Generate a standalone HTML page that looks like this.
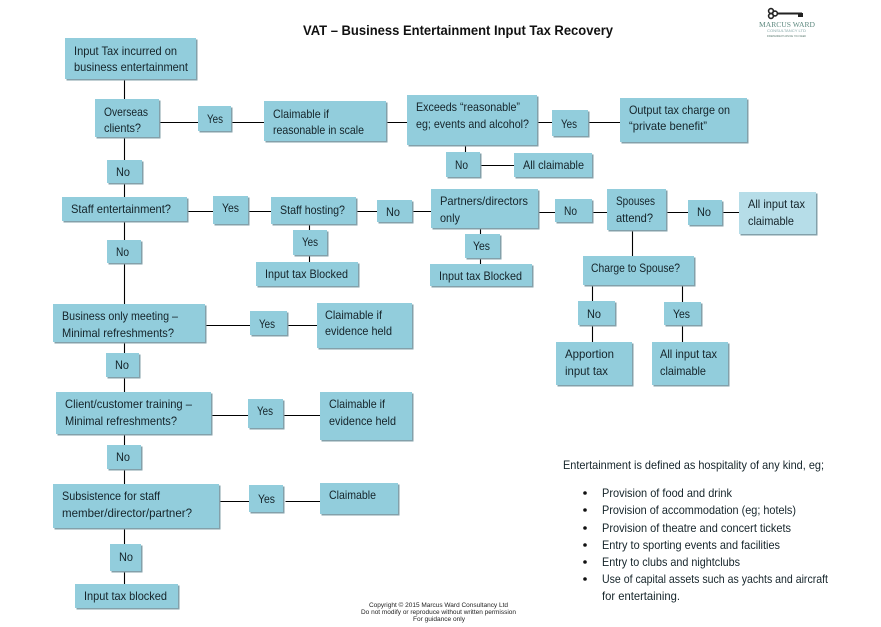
<!DOCTYPE html>
<html><head><meta charset="utf-8"><style>
html,body{margin:0;padding:0;background:#fff}
svg{display:block}
text{font-family:"Liberation Sans",sans-serif;font-size:11.6px;fill:#15242a}
.s{fill:#83a0aa}
.b{fill:#92cddc}
.l{stroke:#000;stroke-width:1.1;fill:none}
</style></head><body>
<svg width="881" height="627" viewBox="0 0 881 627" xmlns="http://www.w3.org/2000/svg">
<rect width="881" height="627" fill="#fff"/>
<path class="l" transform="translate(0.5 0.5)" d="M124 80V99M124 138V160M124 184V197M124 222V240M124 264V304M124 343V353M124 378V392M124 435V445M124 470V484M124 529V544M124 572V584
M160 122H198M232 122H264M387 122H407M538 122H552M589 122H620M465 146V152M481 165H514
M188 211H213M249 211H271M357 211H377M413 211H431M539 212H555M593 212H607M667 212H688M723 212H739
M309 225V230M309 256V262M480 229V234M480 259V264M632 231V256M592 286V301M592 326V342M682 286V302M682 326V342
M206 325H250M288 325H317M212 415H248M284 415H320M220 501H249M285 501H320"/>
<!-- shadows -->
<g class="s">
<rect x="66.500" y="39.500" width="131" height="41"/>
<rect x="96.500" y="100.500" width="64" height="38"/>
<rect x="199.500" y="107.500" width="33" height="25"/>
<rect x="265.500" y="102.500" width="122" height="40"/>
<rect x="108.500" y="161.500" width="35" height="23"/>
<rect x="63.500" y="198.500" width="125" height="24"/>
<rect x="214.500" y="197.500" width="35" height="28"/>
<rect x="272.500" y="198.500" width="85" height="27"/>
<rect x="408.500" y="96.500" width="130" height="50"/>
<rect x="553.500" y="111.500" width="36" height="26"/>
<rect x="621.500" y="99.500" width="127" height="44"/>
<rect x="447.500" y="153.500" width="34" height="25"/>
<rect x="515.500" y="154.500" width="78" height="24"/>
<rect x="378.500" y="201.500" width="35" height="22"/>
<rect x="432.500" y="190.500" width="107" height="39"/>
<rect x="556.500" y="200.500" width="37" height="23"/>
<rect x="608.500" y="190.500" width="59" height="41"/>
<rect x="689.500" y="201.500" width="34" height="25"/>
<rect x="740.500" y="193.500" width="77" height="42"/>
<rect x="294.500" y="231.500" width="34" height="25"/>
<rect x="257.500" y="263.500" width="102" height="24"/>
<rect x="466.500" y="235.500" width="35" height="24"/>
<rect x="431.500" y="265.500" width="102" height="22"/>
<rect x="584.500" y="257.500" width="111" height="29"/>
<rect x="579.500" y="302.500" width="37" height="24"/>
<rect x="665.500" y="303.500" width="37" height="23"/>
<rect x="557.500" y="343.500" width="76" height="43"/>
<rect x="653.500" y="343.500" width="76" height="43"/>
<rect x="108.500" y="241.500" width="34" height="23"/>
<rect x="54.500" y="305.500" width="152" height="38"/>
<rect x="251.500" y="312.500" width="37" height="24"/>
<rect x="318.500" y="304.500" width="95" height="45"/>
<rect x="107.500" y="354.500" width="33" height="24"/>
<rect x="57.500" y="393.500" width="155" height="42"/>
<rect x="249.500" y="400.500" width="35" height="29"/>
<rect x="321.500" y="393.500" width="92" height="48"/>
<rect x="108.500" y="446.500" width="34" height="24"/>
<rect x="54.500" y="485.500" width="166" height="44"/>
<rect x="250.500" y="486.500" width="34" height="27"/>
<rect x="321.500" y="484.500" width="78" height="31"/>
<rect x="111.500" y="545.500" width="31" height="27"/>
<rect x="76.500" y="585.500" width="103" height="24"/>
</g>
<!-- boxes -->
<g class="b">
<rect x="65" y="38" width="131" height="41"/>
<rect x="95" y="99" width="64" height="38"/>
<rect x="198" y="106" width="33" height="25"/>
<rect x="264" y="101" width="122" height="40"/>
<rect x="107" y="160" width="35" height="23"/>
<rect x="62" y="197" width="125" height="24"/>
<rect x="213" y="196" width="35" height="28"/>
<rect x="271" y="197" width="85" height="27"/>
<rect x="407" y="95" width="130" height="50"/>
<rect x="552" y="110" width="36" height="26"/>
<rect x="620" y="98" width="127" height="44"/>
<rect x="446" y="152" width="34" height="25"/>
<rect x="514" y="153" width="78" height="24"/>
<rect x="377" y="200" width="35" height="22"/>
<rect x="431" y="189" width="107" height="39"/>
<rect x="555" y="199" width="37" height="23"/>
<rect x="607" y="189" width="59" height="41"/>
<rect x="688" y="200" width="34" height="25"/>
<rect x="739" y="192" width="77" height="42" style="fill:#b6dde8"/>
<rect x="293" y="230" width="34" height="25"/>
<rect x="256" y="262" width="102" height="24"/>
<rect x="465" y="234" width="35" height="24"/>
<rect x="430" y="264" width="102" height="22"/>
<rect x="583" y="256" width="111" height="29"/>
<rect x="578" y="301" width="37" height="24"/>
<rect x="664" y="302" width="37" height="23"/>
<rect x="556" y="342" width="76" height="43"/>
<rect x="652" y="342" width="76" height="43"/>
<rect x="107" y="240" width="34" height="23"/>
<rect x="53" y="304" width="152" height="38"/>
<rect x="250" y="311" width="37" height="24"/>
<rect x="317" y="303" width="95" height="45"/>
<rect x="106" y="353" width="33" height="24"/>
<rect x="56" y="392" width="155" height="42"/>
<rect x="248" y="399" width="35" height="29"/>
<rect x="320" y="392" width="92" height="48"/>
<rect x="107" y="445" width="34" height="24"/>
<rect x="53" y="484" width="166" height="44"/>
<rect x="249" y="485" width="34" height="27"/>
<rect x="320" y="483" width="78" height="31"/>
<rect x="110" y="544" width="31" height="27"/>
<rect x="75" y="584" width="103" height="24"/>
</g>
<!-- box labels -->
<g>
<text x="74" y="55" textLength="103" lengthAdjust="spacingAndGlyphs">Input Tax incurred on</text>
<text x="74" y="71" textLength="114" lengthAdjust="spacingAndGlyphs">business entertainment</text>
<text x="104" y="116" textLength="44" lengthAdjust="spacingAndGlyphs">Overseas</text>
<text x="104" y="132" textLength="37" lengthAdjust="spacingAndGlyphs">clients?</text>
<text x="207" y="123" textLength="16" lengthAdjust="spacingAndGlyphs">Yes</text>
<text x="273" y="118" textLength="56" lengthAdjust="spacingAndGlyphs">Claimable if</text>
<text x="273" y="134" textLength="91" lengthAdjust="spacingAndGlyphs">reasonable in scale</text>
<text x="116" y="176" textLength="14" lengthAdjust="spacingAndGlyphs">No</text>
<text x="71" y="213" textLength="100" lengthAdjust="spacingAndGlyphs">Staff entertainment?</text>
<text x="222" y="212" textLength="17" lengthAdjust="spacingAndGlyphs">Yes</text>
<text x="280" y="214" textLength="65" lengthAdjust="spacingAndGlyphs">Staff hosting?</text>
<text x="416" y="111" textLength="104" lengthAdjust="spacingAndGlyphs">Exceeds “reasonable”</text>
<text x="416" y="128" textLength="113" lengthAdjust="spacingAndGlyphs">eg; events and alcohol?</text>
<text x="561" y="128" textLength="16" lengthAdjust="spacingAndGlyphs">Yes</text>
<text x="629" y="114" textLength="101" lengthAdjust="spacingAndGlyphs">Output tax charge on</text>
<text x="629" y="130" textLength="78" lengthAdjust="spacingAndGlyphs">“private benefit”</text>
<text x="455" y="169" textLength="13" lengthAdjust="spacingAndGlyphs">No</text>
<text x="523" y="169" textLength="61" lengthAdjust="spacingAndGlyphs">All claimable</text>
<text x="386" y="216" textLength="14" lengthAdjust="spacingAndGlyphs">No</text>
<text x="440" y="205" textLength="88" lengthAdjust="spacingAndGlyphs">Partners/directors</text>
<text x="440" y="222" textLength="20" lengthAdjust="spacingAndGlyphs">only</text>
<text x="564" y="215" textLength="13" lengthAdjust="spacingAndGlyphs">No</text>
<text x="616" y="205" textLength="39" lengthAdjust="spacingAndGlyphs">Spouses</text>
<text x="616" y="222" textLength="37" lengthAdjust="spacingAndGlyphs">attend?</text>
<text x="697" y="216" textLength="14" lengthAdjust="spacingAndGlyphs">No</text>
<text x="748" y="208" textLength="57" lengthAdjust="spacingAndGlyphs">All input tax</text>
<text x="748" y="225" textLength="46" lengthAdjust="spacingAndGlyphs">claimable</text>
<text x="302" y="246" textLength="16" lengthAdjust="spacingAndGlyphs">Yes</text>
<text x="265" y="278" textLength="83" lengthAdjust="spacingAndGlyphs">Input tax Blocked</text>
<text x="473" y="250" textLength="17" lengthAdjust="spacingAndGlyphs">Yes</text>
<text x="439" y="280" textLength="83" lengthAdjust="spacingAndGlyphs">Input tax Blocked</text>
<text x="591" y="272" textLength="89" lengthAdjust="spacingAndGlyphs">Charge to Spouse?</text>
<text x="587" y="318" textLength="14" lengthAdjust="spacingAndGlyphs">No</text>
<text x="673" y="318" textLength="17" lengthAdjust="spacingAndGlyphs">Yes</text>
<text x="565" y="358" textLength="49" lengthAdjust="spacingAndGlyphs">Apportion</text>
<text x="565" y="375" textLength="43" lengthAdjust="spacingAndGlyphs">input tax</text>
<text x="660" y="358" textLength="57" lengthAdjust="spacingAndGlyphs">All input tax</text>
<text x="660" y="375" textLength="46" lengthAdjust="spacingAndGlyphs">claimable</text>
<text x="116" y="256" textLength="13" lengthAdjust="spacingAndGlyphs">No</text>
<text x="62" y="320" textLength="116" lengthAdjust="spacingAndGlyphs">Business only meeting –</text>
<text x="62" y="337" textLength="112" lengthAdjust="spacingAndGlyphs">Minimal refreshments?</text>
<text x="259" y="328" textLength="16" lengthAdjust="spacingAndGlyphs">Yes</text>
<text x="325" y="319" textLength="57" lengthAdjust="spacingAndGlyphs">Claimable if</text>
<text x="325" y="335" textLength="67" lengthAdjust="spacingAndGlyphs">evidence held</text>
<text x="115" y="369" textLength="14" lengthAdjust="spacingAndGlyphs">No</text>
<text x="65" y="408" textLength="127" lengthAdjust="spacingAndGlyphs">Client/customer training –</text>
<text x="65" y="425" textLength="112" lengthAdjust="spacingAndGlyphs">Minimal refreshments?</text>
<text x="257" y="415" textLength="16" lengthAdjust="spacingAndGlyphs">Yes</text>
<text x="329" y="408" textLength="56" lengthAdjust="spacingAndGlyphs">Claimable if</text>
<text x="329" y="425" textLength="67" lengthAdjust="spacingAndGlyphs">evidence held</text>
<text x="116" y="461" textLength="14" lengthAdjust="spacingAndGlyphs">No</text>
<text x="62" y="500" textLength="98" lengthAdjust="spacingAndGlyphs">Subsistence for staff</text>
<text x="62" y="517" textLength="130" lengthAdjust="spacingAndGlyphs">member/director/partner?</text>
<text x="258" y="503" textLength="17" lengthAdjust="spacingAndGlyphs">Yes</text>
<text x="329" y="499" textLength="47" lengthAdjust="spacingAndGlyphs">Claimable</text>
<text x="119" y="561" textLength="14" lengthAdjust="spacingAndGlyphs">No</text>
<text x="84" y="600" textLength="83" lengthAdjust="spacingAndGlyphs">Input tax blocked</text>
</g>
<!-- title -->
<text x="303" y="35" textLength="310" lengthAdjust="spacingAndGlyphs" style="font-size:13.5px;font-weight:bold;fill:#111">VAT – Business Entertainment Input Tax Recovery</text>
<!-- definition text -->
<text x="563" y="469" textLength="261" lengthAdjust="spacingAndGlyphs">Entertainment is defined as hospitality of any kind, eg;</text>
<g fill="#111">
<circle cx="585" cy="493" r="1.8"/><circle cx="585" cy="510" r="1.8"/><circle cx="585" cy="528" r="1.8"/><circle cx="585" cy="545" r="1.8"/><circle cx="585" cy="562" r="1.8"/><circle cx="585" cy="579" r="1.8"/>
</g>
<text x="602" y="497" textLength="130" lengthAdjust="spacingAndGlyphs">Provision of food and drink</text>
<text x="602" y="514" textLength="194" lengthAdjust="spacingAndGlyphs">Provision of accommodation (eg; hotels)</text>
<text x="602" y="532" textLength="189" lengthAdjust="spacingAndGlyphs">Provision of theatre and concert tickets</text>
<text x="602" y="549" textLength="178" lengthAdjust="spacingAndGlyphs">Entry to sporting events and facilities</text>
<text x="602" y="566" textLength="138" lengthAdjust="spacingAndGlyphs">Entry to clubs and nightclubs</text>
<text x="602" y="583" textLength="226" lengthAdjust="spacingAndGlyphs">Use of capital assets such as yachts and aircraft</text>
<text x="602" y="600" textLength="78" lengthAdjust="spacingAndGlyphs">for entertaining.</text>
<!-- footer -->
<text x="369" y="607" textLength="139" lengthAdjust="spacingAndGlyphs" style="font-size:6.4px;fill:#222">Copyright © 2015 Marcus Ward Consultancy Ltd</text>
<text x="361" y="614" textLength="155" lengthAdjust="spacingAndGlyphs" style="font-size:6.4px;fill:#222">Do not modify or reproduce without written permission</text>
<text x="413" y="621" textLength="52" lengthAdjust="spacingAndGlyphs" style="font-size:6.4px;fill:#222">For guidance only</text>
<!-- logo -->
<g fill="none" stroke="#222" stroke-width="1.6">
<circle cx="771" cy="11" r="2.4"/><circle cx="771" cy="16" r="2.4"/><circle cx="775" cy="13.5" r="2.4"/>
</g>
<rect x="777" y="12.500" width="25" height="2" fill="#222"/>
<rect x="798" y="13" width="5" height="4" fill="#222"/>
<text x="759" y="27" textLength="56" lengthAdjust="spacingAndGlyphs" style="font-family:'Liberation Serif',serif;font-size:7.5px;fill:#5f8a80">MARCUS WARD</text>
<text x="767" y="32" textLength="39" lengthAdjust="spacingAndGlyphs" style="font-size:3.2px;fill:#8aa">CONSULTANCY LTD</text>
<text x="767" y="37" textLength="39" lengthAdjust="spacingAndGlyphs" style="font-size:3px;fill:#5a7a70">INDEPENDENT ADVICE YOU NEED</text>
</svg>
</body></html>
